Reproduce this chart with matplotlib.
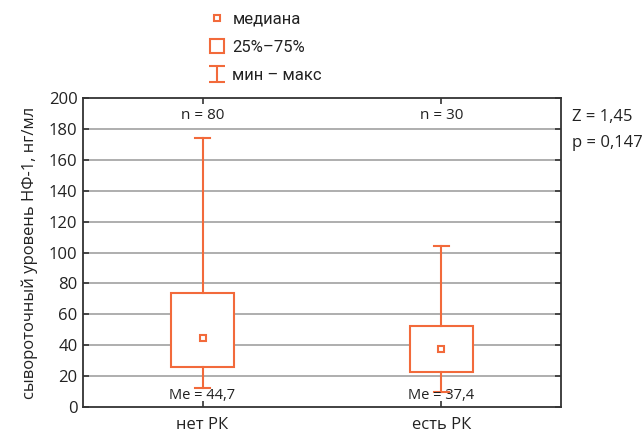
import matplotlib
matplotlib.use("Agg")
import matplotlib.pyplot as plt
from matplotlib.lines import Line2D
from matplotlib.path import Path

plt.rcParams['font.family'] = ['Open Sans', 'DejaVu Sans']

groups = ['нет РК', 'есть РК']
n_labels = ['n = 80', 'n = 30']
medians = [44.7, 37.4]
q1 = [26.1, 22.4]
q3 = [73.6, 52.6]
mins = [12.1, 9.5]
maxs = [174.3, 104.2]
me_labels = ['Me = 44,7', 'Me = 37,4']
stat_lines = ['Z = 1,45', 'p = 0,147']

orange = '#f26a3b'
dark = '#333333'
grid_c = '#a8a8a8'

fig = plt.figure(figsize=(6.42, 4.34), dpi=100)
ax = fig.add_axes([0.1293, 0.0622, 0.7445, 0.712])

pos = [0.5, 1.5]
stats = []
for i in range(len(groups)):
    stats.append(dict(med=medians[i], q1=q1[i], q3=q3[i],
                      whislo=mins[i], whishi=maxs[i], fliers=[]))

ax.bxp(stats, positions=pos, widths=0.265, capwidths=0.066,
       showfliers=False, patch_artist=True,
       boxprops=dict(facecolor='white', edgecolor=orange, linewidth=1.5),
       whiskerprops=dict(color=orange, linewidth=1.5),
       capprops=dict(color=orange, linewidth=1.5),
       medianprops=dict(linewidth=0), zorder=3)
ax.plot(pos, medians, ls='', marker='s', markersize=4.5, mfc='white',
        mec=orange, mew=1.5, zorder=4)

ax.set_xlim(0, 2)
ax.set_ylim(0, 200)
ax.set_yticks(range(0, 201, 20))
ax.set_xticks(pos)
ax.set_xticklabels(groups)
for y in range(20, 200, 20):
    ax.axhline(y, color=grid_c, lw=1.3, zorder=1)

ax.tick_params(direction='in', length=4, width=1.2, color=dark,
               top=True, right=True, labelsize=12, colors='#222222')
ax.tick_params(axis='x', pad=7)
ax.tick_params(axis='y', pad=4)
for s in ax.spines.values():
    s.set_color(dark)
    s.set_linewidth(1.3)

ax.set_ylabel('сывороточный уровень НФ-1, нг/мл', fontsize=12,
              color='#222222', labelpad=8)

for i in range(len(groups)):
    ax.text(pos[i], 188.5, n_labels[i], ha='center', va='center',
            fontsize=11, color='#222222')
    ax.text(pos[i], 7.3, me_labels[i], ha='center', va='center',
            fontsize=10.5, color='#222222', zorder=5)

for k, t in enumerate(stat_lines):
    fig.text(572 / 642, 1 - (117 + 26 * k) / 434, t, ha='left', va='center',
             fontsize=12, color='#222222')

# legend
whisk = Path([(-1, 1), (1, 1), (0, 1), (0, -1), (-1, -1), (1, -1)],
             [Path.MOVETO, Path.LINETO, Path.MOVETO, Path.LINETO,
              Path.MOVETO, Path.LINETO])
handles = [
    Line2D([], [], ls='', marker='s', markersize=4.5, mfc='white',
           mec=orange, mew=1.5),
    Line2D([], [], ls='', marker='s', markersize=10.5, mfc='white',
           mec=orange, mew=1.5),
    Line2D([], [], ls='', marker=whisk, markersize=11, mec=orange, mew=1.5),
]
fig.legend(handles, ['медиана', '25%–75%', 'мин – макс'],
           loc='upper left', bbox_to_anchor=(200 / 642, 0.993),
           borderaxespad=0.1,
           frameon=False, handlelength=1.05,
           handletextpad=0.4, labelspacing=0.79, labelcolor='#222222',
           prop=dict(family=['Roboto', 'Open Sans'], size=12))

fig.savefig('out.png', dpi=100)
